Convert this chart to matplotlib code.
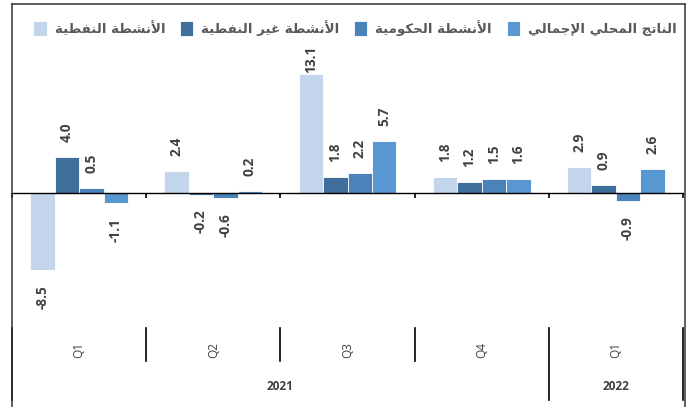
import matplotlib
matplotlib.use('Agg')
import matplotlib.pyplot as plt
from matplotlib.lines import Line2D
import matplotlib.transforms as mtransforms
import numpy as np

# data
quarters = ['Q1', 'Q2', 'Q3', 'Q4', 'Q1']
years = ['2021', '2022']
year_span = [(0, 3), (4, 4)]  # first and last quarter index of each year
series_names = ['الأنشطة النفطية', 'الأنشطة غير النفطية', 'الأنشطة الحكومية', 'الناتج المحلي الإجمالي']
oil = [-8.5, 2.4, 13.1, 1.8, 2.9]
non_oil = [4.0, -0.2, 1.8, 1.2, 0.9]
government = [0.5, -0.6, 2.2, 1.5, -0.9]
gdp = [-1.1, 0.2, 5.7, 1.6, 2.6]
colors = ['#c4d5eb', '#3f6f9c', '#4a83ba', '#5897d0']

# matplotlib has no Arabic shaping, so join letters by hand (presentation forms)
FORMS = {
    'ا': ('\uFE8D', '\uFE8E', None, None),
    'أ': ('\uFE83', '\uFE84', None, None),
    'إ': ('\uFE87', '\uFE88', None, None),
    'ة': ('\uFE93', '\uFE94', None, None),
    'ت': ('\uFE95', '\uFE96', '\uFE97', '\uFE98'),
    'ج': ('\uFE9D', '\uFE9E', '\uFE9F', '\uFEA0'),
    'ح': ('\uFEA1', '\uFEA2', '\uFEA3', '\uFEA4'),
    'ر': ('\uFEAD', '\uFEAE', None, None),
    'ش': ('\uFEB5', '\uFEB6', '\uFEB7', '\uFEB8'),
    'ط': ('\uFEC1', '\uFEC2', '\uFEC3', '\uFEC4'),
    'غ': ('\uFECD', '\uFECE', '\uFECF', '\uFED0'),
    'ف': ('\uFED1', '\uFED2', '\uFED3', '\uFED4'),
    'ك': ('\uFED9', '\uFEDA', '\uFEDB', '\uFEDC'),
    'ل': ('\uFEDD', '\uFEDE', '\uFEDF', '\uFEE0'),
    'م': ('\uFEE1', '\uFEE2', '\uFEE3', '\uFEE4'),
    'ن': ('\uFEE5', '\uFEE6', '\uFEE7', '\uFEE8'),
    'و': ('\uFEED', '\uFEEE', None, None),
    'ي': ('\uFEF1', '\uFEF2', '\uFEF3', '\uFEF4'),
    'لا': ('\uFEFB', '\uFEFC', None, None),
    'لأ': ('\uFEF7', '\uFEF8', None, None),
    'لإ': ('\uFEF9', '\uFEFA', None, None),
}


def shape_arabic(text):
    tokens = []
    i = 0
    while i < len(text):
        if text[i] == 'ل' and i + 1 < len(text) and text[i:i + 2] in FORMS:
            tokens.append(text[i:i + 2])
            i += 2
        else:
            tokens.append(text[i])
            i += 1
    out = []
    for k, t in enumerate(tokens):
        if t not in FORMS:
            out.append(t)
            continue
        f = FORMS[t]
        prev = tokens[k - 1] if k > 0 else None
        nxt = tokens[k + 1] if k + 1 < len(tokens) else None
        join_prev = prev in FORMS and FORMS[prev][2] is not None
        join_next = nxt in FORMS and f[2] is not None
        if join_prev and join_next:
            out.append(f[3])
        elif join_prev:
            out.append(f[1])
        elif join_next:
            out.append(f[2])
        else:
            out.append(f[0])
    return ''.join(out)[::-1]


W, H = 691, 407
fig = plt.figure(figsize=(W / 100, H / 100), dpi=100)
fig.patch.set_facecolor('white')

ax_top, ax_bot = 40, 328
zero_px = 193
ppu = 9.05
ax = fig.add_axes([12 / W, 1 - ax_bot / H, 671 / W, (ax_bot - ax_top) / H])
ax.patch.set_alpha(0)

x = np.arange(len(quarters))
width = 0.182
all_series = [oil, non_oil, government, gdp]
handles = []
labels = []
for k, vals in enumerate(all_series):
    pos = x + (k - 1.5) * width
    bars = ax.bar(pos, vals, width, color=colors[k], edgecolor='white',
                  linewidth=0.6, label=shape_arabic(series_names[k]))
    handles.append(bars)
    for xp, v in zip(pos, vals):
        off = 15 if v >= 0 else -15
        t = ax.annotate(f'{v:.1f}', xy=(xp, v), xytext=(0, off), textcoords='offset pixels',
                        rotation=90, ha='center', va='bottom' if v >= 0 else 'top',
                        fontsize=9.8, fontweight='bold', family='Open Sans', color='#404040')
        labels.append((t, v))

ax.set_xlim(-0.5, len(quarters) - 0.5)
ax.set_ylim(-(ax_bot - zero_px) / ppu, (zero_px - ax_top) / ppu)
for s in ['left', 'right', 'top']:
    ax.spines[s].set_visible(False)
ax.spines['bottom'].set_position(('data', 0))
ax.spines['bottom'].set_linewidth(1.0)
ax.spines['bottom'].set_color('black')
ax.set_yticks([])
ax.set_xticks(np.arange(-0.5, len(quarters), 1.0))
ax.tick_params(axis='x', direction='out', length=3.6, width=1.2, color='black',
               labelbottom=False)

# category table under the plot
tr = mtransforms.blended_transform_factory(ax.transData, fig.transFigure)
fy = lambda py: 1 - py / H
for b in np.arange(-0.5, len(quarters), 1.0):
    long_line = b in (-0.5, 3.5, len(quarters) - 0.5)
    y_end = 400 if long_line else 361
    fig.add_artist(Line2D([b, b], [fy(328), fy(y_end)], transform=tr,
                          color='black', linewidth=1.2))
for i, q in enumerate(quarters):
    fig.text(i, fy(350), q, transform=tr, rotation=90, ha='center', va='center',
             fontsize=8.5, family='Open Sans', color='#404040')
for yr, (a, b) in zip(years, year_span):
    fig.text((a + b) / 2, fy(387), yr, transform=tr, ha='center', va='center',
             fontsize=8.5, family='Open Sans', fontweight='bold', color='#404040')

# chart border
border = dict(transform=fig.transFigure, color='#333333', linewidth=1.1)
fig.add_artist(Line2D([12 / W, 12 / W], [fy(4), 0], **border))
fig.add_artist(Line2D([12 / W, 685 / W], [fy(4), fy(4)], **border))
fig.add_artist(Line2D([685 / W, 685 / W], [fy(4), 0], **border))

fig.legend(handles=handles, loc='center', bbox_to_anchor=(355 / W, fy(28)), ncol=4,
           frameon=False, handlelength=1.0, handleheight=1.3, handletextpad=0.6,
           columnspacing=1.1, prop={'family': 'DejaVu Sans', 'weight': 'bold', 'size': 9.6},
           labelcolor='#595959')

# like the spreadsheet, keep value labels below the legend band
fig.canvas.draw()
top_limit = H - 46
for t, v in labels:
    bb = t.get_window_extent()
    if v >= 0 and bb.y1 > top_limit:
        t.set_position((0, 15 - (bb.y1 - top_limit)))

fig.savefig('out.png', dpi=100, facecolor='white')
